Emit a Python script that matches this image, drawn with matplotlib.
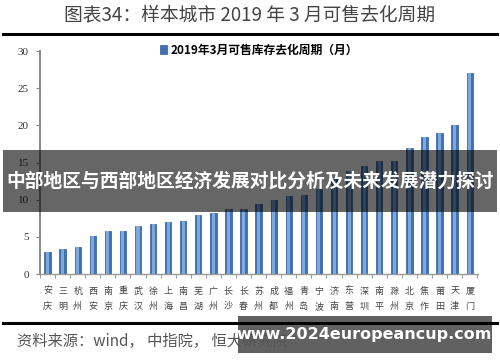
import matplotlib.pyplot as plt
import numpy as np
from matplotlib.lines import Line2D
from matplotlib.patches import Rectangle

plt.rcParams['font.family'] = ['Noto Sans CJK SC', 'DejaVu Sans']

# 2019年3月可售库存去化周期（月）
cities = ['安庆', '三明', '杭州', '西安', '南京', '重庆', '武汉', '徐州', '上海', '南昌',
          '芜湖', '广州', '长沙', '长春', '苏州', '成都', '福州', '青岛', '宁波', '济南',
          '东营', '深圳', '南平', '滁州', '北京', '焦作', '莆田', '天津', '厦门']
months = [2.9, 3.4, 3.7, 5.1, 5.8, 5.8, 6.4, 6.7, 7.0, 7.2,
          7.9, 8.2, 8.8, 8.8, 9.4, 9.9, 10.5, 10.7, 11.4, 12.8,
          13.8, 14.5, 15.2, 15.2, 17.0, 18.5, 19.0, 20.1, 27.1]
yticks = [0, 5, 10, 15, 20, 25, 30]

fig = plt.figure(figsize=(5, 3.62), dpi=100)
ax = fig.add_axes([0.08, 0.243, 0.876, 0.616])

x = np.arange(len(cities))
ax.bar(x, months, width=0.42, color='#3f72b5', edgecolor='#2d5b98', linewidth=0.5,
       label='2019年3月可售库存去化周期（月）')
ax.bar(x, months, width=0.2, color='#7fa9dc', linewidth=0)

ax.set_xlim(-0.45, 28.55)
ax.set_ylim(0, 30)
ax.set_yticks(yticks)
ax.set_yticklabels([str(v) for v in yticks], family='Liberation Serif', fontsize=8, color='#333333')
ax.set_xticks(x)
ax.set_xticklabels(['\n'.join(c) for c in cities], fontsize=6.5, color='#444444', linespacing=1.9)
ax.set_xticks(np.arange(-0.5, len(cities), 1), minor=True)
ax.tick_params(axis='x', which='major', length=0, pad=9)
ax.tick_params(axis='x', which='minor', length=3, color='#888888', direction='out')
ax.tick_params(axis='y', length=3, color='#888888', direction='out', pad=5)
for s in ['top', 'right']:
    ax.spines[s].set_visible(False)
ax.spines['left'].set_color('#888888')
ax.spines['left'].set_linewidth(1.4)
ax.spines['bottom'].set_color('#999999')
ax.spines['bottom'].set_linewidth(1.0)

leg = ax.legend(loc='upper center', bbox_to_anchor=(0.5, 1.08), frameon=False,
                prop={'size': 8.5, 'weight': 'bold'}, handlelength=0.6, handleheight=0.8,
                handletextpad=0.3)

# title and rules
fig.text(0.5, 0.958, '图表34：样本城市 2019 年 3 月可售去化周期', ha='center', va='center',
         fontsize=13.5, color='#444444')
fig.add_artist(Line2D([0.006, 0.994], [0.906, 0.906], color='black', linewidth=2.2))
fig.add_artist(Line2D([0.006, 0.994], [0.108, 0.108], color='black', linewidth=2.2))
fig.text(0.034, 0.058, '资料来源：wind， 中指院， 恒大研究院', ha='left', va='center',
         fontsize=11, color='#555555', style='italic')

# overlay banner
fig.add_artist(Rectangle((0.006, 0.415), 0.988, 0.171, transform=fig.transFigure,
                         facecolor='black', alpha=0.6, linewidth=0))
fig.text(0.5, 0.5, '中部地区与西部地区经济发展对比分析及未来发展潜力探讨', ha='center',
         va='center', fontsize=13.5, color='white', weight='bold')

# watermark box
fig.add_artist(Rectangle((0.476, 0.025), 0.508, 0.102, transform=fig.transFigure,
                         facecolor='black', alpha=0.62, linewidth=0))
fig.text(0.728, 0.076, 'www.2024europeancup.com', ha='center', va='center',
         fontsize=11.5, color='white', weight='bold', family='DejaVu Sans')

fig.savefig('out.png', dpi=100)
